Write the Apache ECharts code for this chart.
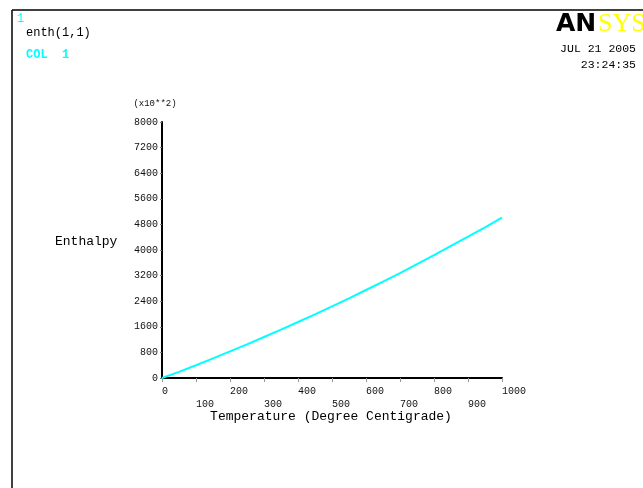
<!DOCTYPE html>
<html>
<head>
<meta charset="utf-8">
<script src="https://cdn.jsdelivr.net/npm/echarts@6/dist/echarts.min.js"></script>
<style>
html,body{margin:0;padding:0;background:#fff;}
#chart{width:643px;height:488px;}
</style>
</head>
<body>
<div id="chart"></div>
<script>
// Temperature (Degree Centigrade)
var temperature = [0, 50, 100, 150, 200, 250, 300, 350, 400, 450, 500, 550, 600, 650, 700, 750, 800, 850, 900, 950, 1000];
// Enthalpy (x10**2)
var enthalpy = [0, 190, 400, 615, 830, 1050, 1280, 1510, 1750, 1990, 2240, 2490, 2750, 3010, 3280, 3560, 3840, 4130, 4420, 4710, 5010];
var xTicks = [0, 100, 200, 300, 400, 500, 600, 700, 800, 900, 1000];
var yTicks = [0, 800, 1600, 2400, 3200, 4000, 4800, 5600, 6400, 7200, 8000];

var mono = '"Liberation Mono", "DejaVu Sans Mono", monospace';
var chart = echarts.init(document.getElementById('chart'));
var pts = temperature.map(function (t, i) { return [t, enthalpy[i]]; });

chart.setOption({
  backgroundColor: '#ffffff',
  animation: false,
  grid: { left: 162, top: 122, width: 340, height: 256, containLabel: false },
  xAxis: {
    type: 'value', min: xTicks[0], max: xTicks[xTicks.length - 1], interval: 100,
    axisLine: { show: true, lineStyle: { color: '#000', width: 2 } },
    axisTick: { show: true, length: 4, lineStyle: { color: '#999', width: 1 } },
    splitLine: { show: false },
    axisLabel: {
      margin: 7, color: '#111', fontFamily: mono, fontSize: 10, align: 'left', lineHeight: 13,
      formatter: function (v) { return (Math.round(v / 100) % 2 === 1) ? '\n' + v : String(v); }
    }
  },
  yAxis: {
    type: 'value', min: yTicks[0], max: yTicks[yTicks.length - 1], interval: 800,
    axisLine: { show: true, lineStyle: { color: '#000', width: 2 } },
    axisTick: { show: true, length: 2, lineStyle: { color: '#777', width: 1 } },
    splitLine: { show: false },
    axisLabel: { margin: 4, color: '#111', fontFamily: mono, fontSize: 10, padding: [0, 0, 3, 0],
      formatter: function (v) { return String(v); } }
  },
  series: [{
    type: 'line', data: pts, showSymbol: false, smooth: false,
    lineStyle: { color: '#00ffff', width: 2 }
  }],
  graphic: [
    { type: 'line', shape: { x1: 12, y1: 10, x2: 643, y2: 10 }, style: { stroke: '#000', lineWidth: 1.5 } },
    { type: 'line', shape: { x1: 12, y1: 10, x2: 12, y2: 488 }, style: { stroke: '#000', lineWidth: 1.5 } },
    { type: 'text', left: 17, top: 13, style: { text: '1', fill: '#00ffff', font: '12px ' + mono } },
    { type: 'text', left: 26, top: 27, style: { text: 'enth(1,1)', fill: '#000', font: '12px ' + mono } },
    { type: 'text', left: 26, top: 49, style: { text: 'COL  1', fill: '#00ffff', font: 'bold 12px ' + mono } },
    { type: 'text', left: 556, top: 12, style: { text: 'AN', fill: '#000', font: 'bold 25px "DejaVu Sans", sans-serif' } },
    { type: 'text', left: 598, top: 11, style: { text: 'SYS', fill: '#ffff00', font: '26px "Liberation Serif", serif' } },
    { type: 'text', x: 636, y: 49, style: { text: 'JUL 21 2005', fill: '#000', font: '11.5px ' + mono, align: 'right', verticalAlign: 'middle' } },
    { type: 'text', x: 636, y: 65, style: { text: '23:24:35', fill: '#000', font: '11.5px ' + mono, align: 'right', verticalAlign: 'middle' } },
    { type: 'text', x: 155, y: 104, style: { text: '(x10**2)', fill: '#111', font: '9px ' + mono, align: 'center', verticalAlign: 'middle' } },
    { type: 'text', x: 55, y: 242, style: { text: 'Enthalpy', fill: '#000', font: '13px ' + mono, align: 'left', verticalAlign: 'middle' } },
    { type: 'text', x: 331, y: 417, style: { text: 'Temperature (Degree Centigrade)', fill: '#000', font: '13px ' + mono, align: 'center', verticalAlign: 'middle' } }
  ]
});
</script>
</body>
</html>
